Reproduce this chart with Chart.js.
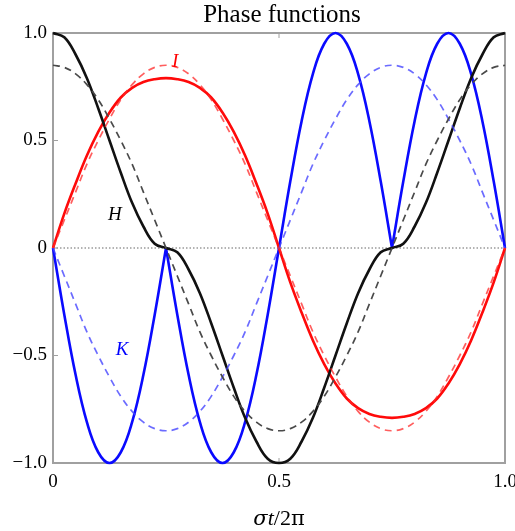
<!DOCTYPE html>
<html lang="en">
<head>
  <meta charset="UTF-8" />
  <title>Phase functions</title>
  <script src="https://cdn.jsdelivr.net/npm/chart.js"></script>
  <style>
    body { margin: 0; background: #fff; }
    canvas { display: block; }
  </style>
</head>
<body>
  <canvas id="phaseChart" width="515" height="531"></canvas>

  <script>
    // sigma t / 2 pi, sampled every 0.025
    const xs = [0, 0.025, 0.05, 0.075, 0.1, 0.125, 0.15, 0.175, 0.2, 0.225,
      0.25, 0.275, 0.3, 0.325, 0.35, 0.375, 0.4, 0.425, 0.45, 0.475,
      0.5, 0.525, 0.55, 0.575, 0.6, 0.625, 0.65, 0.675, 0.7, 0.725,
      0.75, 0.775, 0.8, 0.825, 0.85, 0.875, 0.9, 0.925, 0.95, 0.975, 1];

    const hSolid = [1, 0.98, 0.9, 0.79, 0.65, 0.5, 0.35, 0.21, 0.1, 0.02,
      0, -0.02, -0.1, -0.21, -0.35, -0.5, -0.65, -0.79, -0.9, -0.98,
      -1, -0.98, -0.9, -0.79, -0.65, -0.5, -0.35, -0.21, -0.1, -0.02,
      0, 0.02, 0.1, 0.21, 0.35, 0.5, 0.65, 0.79, 0.9, 0.98, 1];
    const hDashed = [0.85, 0.84, 0.81, 0.76, 0.69, 0.6, 0.5, 0.39, 0.26, 0.13,
      0, -0.13, -0.26, -0.39, -0.5, -0.6, -0.69, -0.76, -0.81, -0.84,
      -0.85, -0.84, -0.81, -0.76, -0.69, -0.6, -0.5, -0.39, -0.26, -0.13,
      0, 0.13, 0.26, 0.39, 0.5, 0.6, 0.69, 0.76, 0.81, 0.84, 0.85];

    const iSolid = [0, 0.16, 0.3, 0.43, 0.54, 0.63, 0.7, 0.745, 0.772, 0.785,
      0.79, 0.785, 0.772, 0.745, 0.7, 0.63, 0.54, 0.43, 0.3, 0.16,
      0, -0.16, -0.3, -0.43, -0.54, -0.63, -0.7, -0.745, -0.772, -0.785,
      -0.79, -0.785, -0.772, -0.745, -0.7, -0.63, -0.54, -0.43, -0.3, -0.16, 0];
    const iDashed = [0, 0.13, 0.26, 0.39, 0.5, 0.6, 0.69, 0.76, 0.81, 0.84,
      0.85, 0.84, 0.81, 0.76, 0.69, 0.6, 0.5, 0.39, 0.26, 0.13,
      0, -0.13, -0.26, -0.39, -0.5, -0.6, -0.69, -0.76, -0.81, -0.84,
      -0.85, -0.84, -0.81, -0.76, -0.69, -0.6, -0.5, -0.39, -0.26, -0.13, 0];

    const kSolid = [0, -0.31, -0.59, -0.81, -0.95, -1, -0.95, -0.81, -0.59, -0.31,
      0, -0.31, -0.59, -0.81, -0.95, -1, -0.95, -0.81, -0.59, -0.31,
      0, 0.31, 0.59, 0.81, 0.95, 1, 0.95, 0.81, 0.59, 0.31,
      0, 0.31, 0.59, 0.81, 0.95, 1, 0.95, 0.81, 0.59, 0.31, 0];
    const kDashed = [0, -0.13, -0.26, -0.39, -0.5, -0.6, -0.69, -0.76, -0.81, -0.84,
      -0.85, -0.84, -0.81, -0.76, -0.69, -0.6, -0.5, -0.39, -0.26, -0.13,
      0, 0.13, 0.26, 0.39, 0.5, 0.6, 0.69, 0.76, 0.81, 0.84,
      0.85, 0.84, 0.81, 0.76, 0.69, 0.6, 0.5, 0.39, 0.26, 0.13, 0];
    // K has cusps here, so it is drawn as separate pieces
    const kCusps = [10, 30];

    const xTicks = [0, 0.5, 1];
    const xTickLabels = ['0', '0.5', '1.0'];
    const yTicks = [-1, -0.5, 0, 0.5, 1];
    const yTickLabels = ['\u22121.0', '\u22120.5', '0', '0.5', '1.0'];

    const curveLabels = [
      { text: 'I', x: 0.27, y: 0.865, color: '#ff0000' },
      { text: 'H', x: 0.137, y: 0.153, color: '#000000' },
      { text: 'K', x: 0.153, y: -0.475, color: '#0000ff' },
    ];

    const serif = "'Liberation Serif', 'DejaVu Serif', serif";
    const greek = "'DejaVu Serif', serif";

    const toPoints = (ys, from = 0, to = xs.length - 1) =>
      xs.slice(from, to + 1).map((x, i) => ({ x, y: ys[from + i] }));

    function line(ys, color, width, dash, from, to) {
      return {
        data: toPoints(ys, from, to),
        borderColor: color,
        borderWidth: width,
        borderDash: dash || [],
        pointRadius: 0,
        fill: false,
        tension: 0.4,
        clip: 4,
      };
    }

    const kBreaks = [0, ...kCusps, xs.length - 1];
    const kPieces = [];
    for (let i = 0; i < kBreaks.length - 1; i++) {
      kPieces.push(line(kSolid, '#0a0aff', 2.6, null, kBreaks[i], kBreaks[i + 1]));
    }

    const datasets = [
      line(hDashed, '#4a4a4a', 1.7, [7, 5]),
      line(iDashed, 'rgba(255,40,40,0.75)', 1.7, [7, 5]),
      line(kDashed, 'rgba(70,70,255,0.8)', 1.7, [7, 5]),
      line(hSolid, '#111111', 2.6),
      line(iSolid, '#ff0a0a', 2.6),
      ...kPieces,
    ];

    // frame, zero line, inward ticks, labels and titles
    const decorations = {
      id: 'decorations',
      beforeDatasetsDraw(chart) {
        const { ctx, chartArea: a, scales } = chart;
        ctx.save();
        const y0 = scales.y.getPixelForValue(0);
        ctx.strokeStyle = '#9a9a9a';
        ctx.lineWidth = 1.5;
        ctx.setLineDash([1.5, 2]);
        ctx.beginPath();
        ctx.moveTo(a.left, y0);
        ctx.lineTo(a.right, y0);
        ctx.stroke();
        ctx.setLineDash([]);

        ctx.strokeStyle = '#a0a0a0';
        ctx.lineWidth = 1;
        ctx.beginPath();
        yTicks.forEach(v => {
          const py = scales.y.getPixelForValue(v);
          ctx.moveTo(a.left, py);
          ctx.lineTo(a.left + 5, py);
        });
        xTicks.forEach(v => {
          const px = scales.x.getPixelForValue(v);
          ctx.moveTo(px, a.top);
          ctx.lineTo(px, a.top + 5);
          ctx.moveTo(px, a.bottom);
          ctx.lineTo(px, a.bottom - 5);
        });
        ctx.stroke();

        ctx.lineWidth = 2;
        ctx.strokeRect(a.left, a.top, a.right - a.left, a.bottom - a.top);
        ctx.restore();
      },
      afterDatasetsDraw(chart) {
        const { ctx, scales } = chart;
        ctx.save();
        ctx.font = 'italic 19px ' + serif;
        ctx.textAlign = 'center';
        ctx.textBaseline = 'middle';
        curveLabels.forEach(l => {
          ctx.fillStyle = l.color;
          ctx.fillText(l.text, scales.x.getPixelForValue(l.x), scales.y.getPixelForValue(l.y));
        });
        ctx.restore();
      },
      afterDraw(chart) {
        const { ctx, chartArea: a } = chart;
        const cx = (a.left + a.right) / 2;
        ctx.save();
        ctx.fillStyle = '#000';
        ctx.textBaseline = 'alphabetic';
        ctx.textAlign = 'center';
        ctx.font = '25px ' + serif;
        ctx.fillText('Phase functions', cx + 3, 22);

        // x title: σt/2π with σ and t in italic
        const parts = [
          { t: '\u03c3', f: 'italic 21px ' + greek },
          { t: 't', f: 'italic 22px ' + serif },
          { t: '/2', f: '22px ' + serif },
          { t: '\u03c0', f: '21px ' + greek },
        ];
        let total = 0;
        parts.forEach(p => { ctx.font = p.f; p.w = ctx.measureText(p.t).width; total += p.w; });
        let x = cx - total / 2;
        ctx.textAlign = 'left';
        parts.forEach(p => { ctx.font = p.f; ctx.fillText(p.t, x, 525); x += p.w; });
        ctx.restore();
      },
    };

    const ctx = document.getElementById('phaseChart').getContext('2d');
    const chart = new Chart(ctx, {
      type: 'line',
      data: { datasets },
      options: {
        responsive: false,
        animation: false,
        devicePixelRatio: 1,
        layout: { padding: { top: 33, right: 10, left: 0, bottom: 0 } },
        plugins: {
          legend: { display: false },
          title: { display: false },
          tooltip: { enabled: false },
        },
        scales: {
          x: {
            type: 'linear',
            min: 0,
            max: 1,
            afterBuildTicks: s => { s.ticks = xTicks.map(v => ({ value: v })); },
            afterFit: s => { s.height = 68; s.paddingLeft = 0; s.paddingRight = 0; },
            grid: { display: false, drawTicks: false },
            border: { display: false },
            ticks: {
              padding: 8,
              color: '#000',
              font: { family: serif, size: 19 },
              maxRotation: 0,
              callback: v => xTickLabels[xTicks.indexOf(v)],
            },
          },
          y: {
            type: 'linear',
            min: -1,
            max: 1,
            afterBuildTicks: s => { s.ticks = yTicks.map(v => ({ value: v })); },
            afterFit: s => { s.width = 53; s.paddingTop = 0; s.paddingBottom = 0; },
            grid: { display: false, drawTicks: false },
            border: { display: false },
            ticks: {
              padding: 6,
              color: '#000',
              font: { family: serif, size: 19 },
              callback: v => yTickLabels[yTicks.indexOf(v)],
            },
          },
        },
      },
      plugins: [decorations],
    });
  </script>
</body>
</html>
